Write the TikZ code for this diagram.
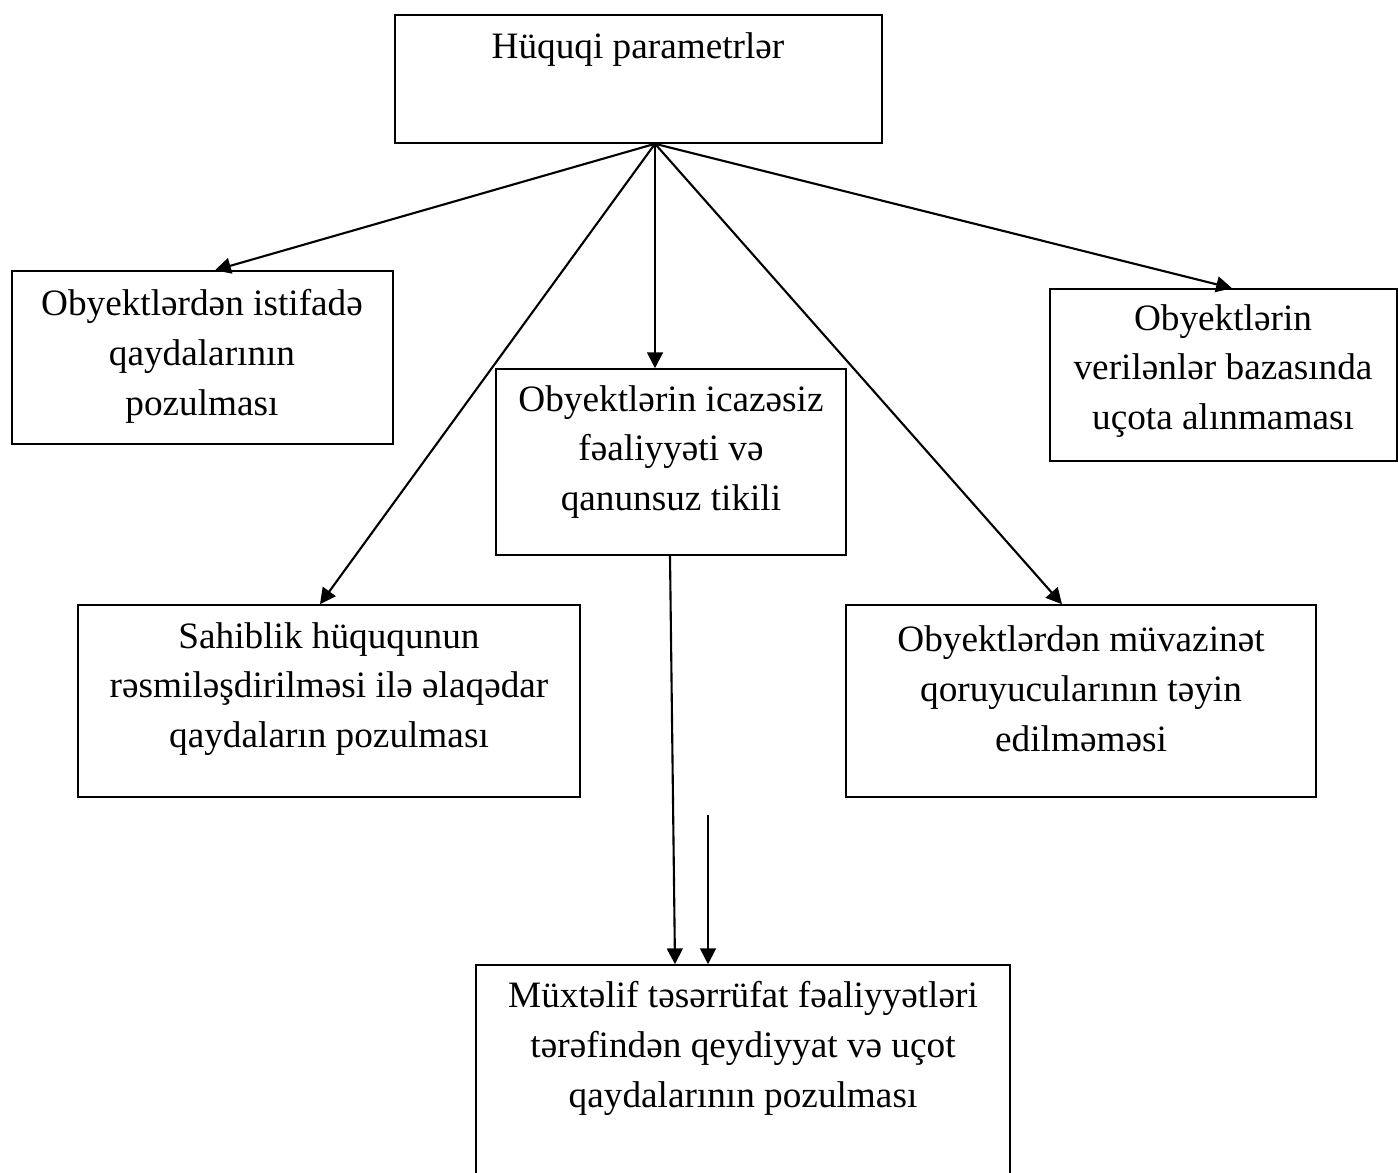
\documentclass[tikz,border=0pt]{standalone}
\usepackage{fontspec}
\setmainfont{Liberation Serif}
\usetikzlibrary{arrows.meta,fit,calc}
\begin{document}
\begin{tikzpicture}[x=0.02cm,y=-0.02cm,
  box/.style={draw,line width=0.9pt,inner sep=0pt},
  txt/.style={align=center,inner sep=0pt,font=\fontsize{21.2}{28.4}\selectfont},
  arr/.style={line width=1.2pt,-{Triangle[length=9pt,width=9pt]}},
  ln/.style={line width=1.2pt}]
\useasboundingbox (0,0) rectangle (1398,1172);
\clip (0,0) rectangle (1398,1172);
% boxes
\node[box,fit={(395,15) (882,143)}] (top) {};
\node[box,fit={(12,271) (393,444)}] (left1) {};
\node[box,fit={(496,369) (846,555)}] (cbox) {};
\node[box,fit={(1050,289) (1397,461)}] (right1) {};
\node[box,fit={(78,605) (580,797)}] (left2) {};
\node[box,fit={(846,605) (1316,797)}] (right2) {};
\node[box,fit={(476,965) (1010,1220)}] (bot) {};
% texts
\node[txt] (ttop) at (638,50) {Hüquqi parametrlər};
\node[txt] (tleft1) at (202,356) {Obyektlərdən istifadə\\qaydalarının\\pozulması};
\node[txt] (tcbox) at (671,452) {Obyektlərin icazəsiz\\fəaliyyəti və\\qanunsuz tikili};
\node[txt] (tright1) at (1223,371) {Obyektlərin\\verilənlər bazasında\\uçota alınmaması};
\node[txt] (tleft2) at (329,689) {Sahiblik hüququnun\\rəsmiləşdirilməsi ilə əlaqədar\\qaydaların pozulması};
\node[txt] (tright2) at (1081,689) {Obyektlərdən müvazinət\\qoruyucularının təyin\\edilməməsi};
\node[txt] (tbot) at (743,1048) {Müxtəlif təsərrüfat fəaliyyətləri\\tərəfindən qeydiyyat və uçot\\qaydalarının pozulması};
% connectors
\coordinate (hub) at ($(top.south)+(16.5,0)$);
\draw[arr] (hub) -- ($(left1.north)+(12.5,0)$);
\draw[arr] (hub) -- (hub |- cbox.north);
\draw[arr] (hub) -- ($(left2.north)+(-9,0)$);
\draw[arr] (hub) -- ($(right2.north)+(-19,0)$);
\draw[arr] (hub) -- ($(right1.north)+(8.5,0)$);
\draw[arr] ($(cbox.south)+(-1,0)$) -- ($(bot.north)+(-68,0)$);
\coordinate (short) at (708,815);
\draw[arr] (short) -- (short |- bot.north);
\end{tikzpicture}
\end{document}
